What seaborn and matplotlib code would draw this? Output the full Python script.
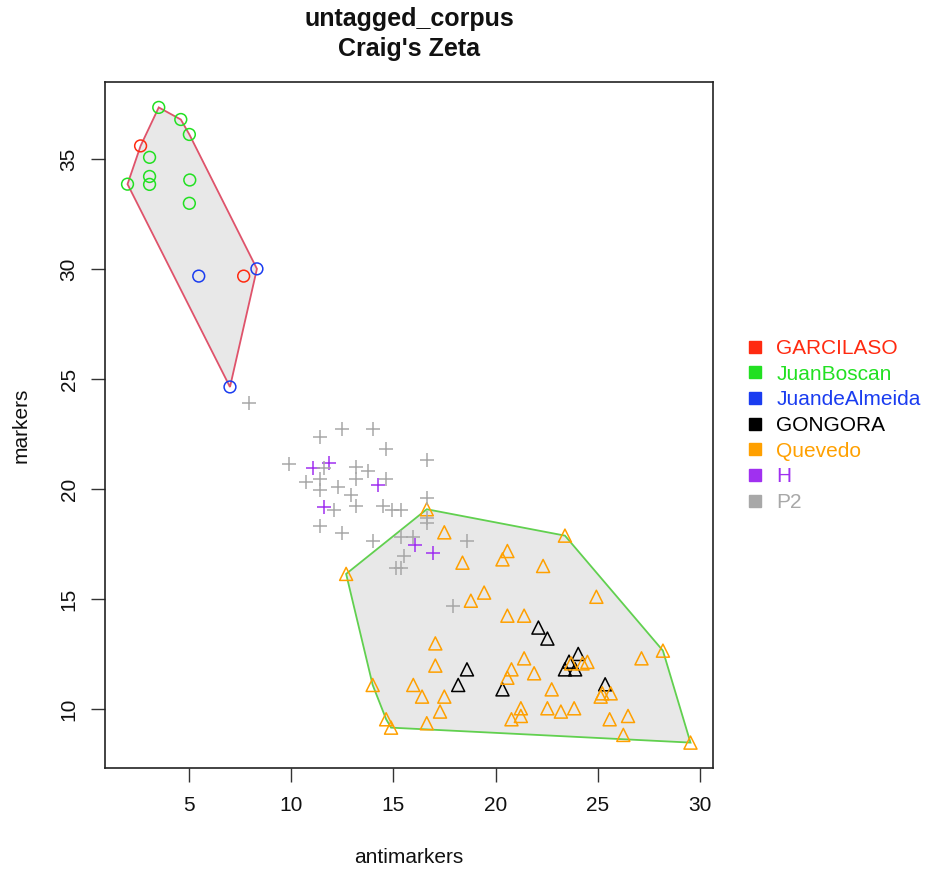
import numpy as np
import pandas as pd
import matplotlib
matplotlib.use("Agg")
import matplotlib.pyplot as plt
from matplotlib.lines import Line2D
import seaborn as sns

# ---------------- data ----------------
authors = ["GARCILASO", "JuanBoscan", "JuandeAlmeida", "GONGORA", "Quevedo", "H", "P2"]
author_colors = ["#FF2A10", "#22E022", "#1A3CF0", "#000000", "#FFA000", "#A030F0", "#A8A8A8"]

garcilaso_x = [2.61, 7.66]
garcilaso_y = [35.6, 29.68]

juanboscan_x = [3.5, 4.58, 5.0, 3.05, 3.05, 3.05, 1.97, 5.02, 5.0]
juanboscan_y = [37.35, 36.8, 36.12, 35.08, 34.21, 33.85, 33.86, 34.05, 32.99]

juandealmeida_x = [5.46, 8.31, 6.99]
juandealmeida_y = [29.68, 30.01, 24.64]

gongora_x = [18.6, 18.17, 20.34, 22.1, 22.54, 24.05, 23.6, 23.4, 23.9, 25.37]
gongora_y = [11.8, 11.09, 10.89, 13.7, 13.2, 12.5, 12.15, 11.8, 11.8, 11.12]

quevedo_x = [16.63, 17.49, 12.68, 18.38, 20.58, 20.34, 19.44, 18.79, 20.58, 21.4,
             17.05, 17.05, 13.98, 15.97, 16.4, 17.49, 17.28, 14.64, 14.88, 16.63,
             20.78, 20.58, 21.4, 21.24, 20.78, 21.24, 23.4, 22.33, 24.94, 28.2,
             27.15, 21.89, 22.75, 22.54, 23.2, 23.85, 25.59, 26.49, 26.26, 29.55,
             23.7, 24.26, 24.5, 25.15, 25.23, 25.64]
quevedo_y = [19.08, 18.03, 16.14, 16.65, 17.18, 16.8, 15.29, 14.92, 14.24, 14.24,
             12.98, 11.97, 11.09, 11.09, 10.56, 10.56, 9.88, 9.53, 9.15, 9.35,
             11.8, 11.42, 12.3, 10.03, 9.53, 9.68, 17.88, 16.5, 15.1, 12.65,
             12.3, 11.62, 10.89, 10.03, 9.88, 10.03, 9.53, 9.68, 8.82, 8.47,
             12.07, 12.07, 12.14, 10.56, 10.71, 10.71]

h_x = [11.08, 11.83, 14.23, 11.59, 16.06, 16.96]
h_y = [20.94, 21.17, 20.17, 19.2, 17.45, 17.1]

p2_x = [11.39, 12.47, 14.0, 14.64, 16.63, 9.86, 11.59, 13.14, 13.77, 13.14,
        14.64, 11.39, 10.73, 12.28, 11.39, 12.9, 16.63, 12.11, 13.14, 14.47,
        14.91, 15.37, 16.63, 16.63, 11.39, 12.47, 14.0, 15.37, 15.97, 18.6,
        15.53, 15.13, 15.37, 17.94, 7.9]
p2_y = [22.38, 22.71, 22.71, 21.82, 21.32, 21.14, 20.94, 20.99, 20.82, 20.45,
        20.45, 20.45, 20.3, 20.08, 19.95, 19.73, 19.58, 19.05, 19.23, 19.23,
        19.05, 19.05, 18.67, 18.47, 18.33, 17.99, 17.64, 17.83, 17.83, 17.64,
        16.97, 16.4, 16.4, 14.68, 23.9]

x_ticks = [5, 10, 15, 20, 25, 30]
y_ticks = [10, 15, 20, 25, 30, 35]

# ---------------- build table ----------------
xs = [garcilaso_x, juanboscan_x, juandealmeida_x, gongora_x, quevedo_x, h_x, p2_x]
ys = [garcilaso_y, juanboscan_y, juandealmeida_y, gongora_y, quevedo_y, h_y, p2_y]
frames = []
for a, x, y in zip(authors, xs, ys):
    frames.append(pd.DataFrame({"antimarkers": x, "markers": y, "author": a}))
df = pd.concat(frames, ignore_index=True)

marker_of = {"GARCILASO": "o", "JuanBoscan": "o", "JuandeAlmeida": "o",
             "GONGORA": "^", "Quevedo": "^", "H": "+", "P2": "+"}
size_of = {"o": 72, "^": 88, "+": 110}
color_of = dict(zip(authors, author_colors))

hull_groups = [(["GARCILASO", "JuanBoscan", "JuandeAlmeida"], "#DF536B"),
               (["GONGORA", "Quevedo"], "#61D04F")]


def convex_hull(points):
    pts = sorted(set(points))
    if len(pts) <= 2:
        return pts

    def cross(o, a, b):
        return (a[0] - o[0]) * (b[1] - o[1]) - (a[1] - o[1]) * (b[0] - o[0])

    lower = []
    for p in pts:
        while len(lower) >= 2 and cross(lower[-2], lower[-1], p) <= 0:
            lower.pop()
        lower.append(p)
    upper = []
    for p in reversed(pts):
        while len(upper) >= 2 and cross(upper[-2], upper[-1], p) <= 0:
            upper.pop()
        upper.append(p)
    return lower[:-1] + upper[:-1]


# ---------------- plot ----------------
sns.set_theme(style="white")
plt.rcParams["font.family"] = ["Liberation Sans", "DejaVu Sans"]

fig = plt.figure(figsize=(9.28, 8.73), dpi=100)
ax = fig.add_axes([105 / 928, 1 - 768 / 873, 608 / 928, 686 / 873])

for group, lc in hull_groups:
    sub = df[df["author"].isin(group)]
    hull = convex_hull(list(zip(sub["antimarkers"], sub["markers"])))
    hx = [p[0] for p in hull]
    hy = [p[1] for p in hull]
    ax.fill(hx, hy, facecolor="#E8E8E8", edgecolor=lc, linewidth=1.3, zorder=1)

for a in authors:
    sub = df[df["author"] == a]
    m = marker_of[a]
    c = color_of[a]
    if m == "+":
        sns.scatterplot(data=sub, x="antimarkers", y="markers", ax=ax, marker="+",
                        s=size_of[m], color=c, linewidth=1.1, zorder=3, legend=False)
    else:
        sns.scatterplot(data=sub, x="antimarkers", y="markers", ax=ax, marker=m,
                        s=size_of[m], color=c, facecolor="none", edgecolor=c,
                        linewidth=1.1, zorder=3, legend=False)

# R-style 4% expansion of the data range
xmin, xmax = df["antimarkers"].min(), df["antimarkers"].max()
ymin, ymax = df["markers"].min(), df["markers"].max()
xr, yr = xmax - xmin, ymax - ymin
ax.set_xlim(xmin - 0.04 * xr, xmax + 0.04 * xr)
ax.set_ylim(ymin - 0.04 * yr, ymax + 0.04 * yr)

ax.set_xticks(x_ticks)
ax.set_yticks(y_ticks)
ax.set_xticklabels([str(t) for t in x_ticks])
ax.set_yticklabels([str(t) for t in y_ticks], rotation=90, va="center")
ax.tick_params(axis="both", which="major", direction="out", length=10, width=1.0,
               color="#333333", labelsize=15, labelcolor="#111111",
               bottom=True, left=True)
ax.tick_params(axis="x", pad=10)
ax.tick_params(axis="y", pad=9)

for sp in ax.spines.values():
    sp.set_color("#222222")
    sp.set_linewidth(1.2)

ax.set_xlabel("antimarkers", fontsize=15, color="#111111", labelpad=24)
ax.set_ylabel("markers", fontsize=15, color="#111111", labelpad=21)

fig.text(409 / 928, 1 - 34 / 873, "untagged_corpus\nCraig's Zeta", ha="center",
         va="center", fontsize=18, fontweight="bold", linespacing=1.35, color="#111111")

handles = [Line2D([], [], marker="s", linestyle="", color=c, markersize=9)
           for c in author_colors]
ax.legend(handles, authors, loc="upper left", bbox_to_anchor=(745 / 928, 1 - 339 / 873),
          bbox_transform=fig.transFigure, frameon=False, fontsize=15,
          labelcolor=author_colors, handletextpad=0.5, labelspacing=0.32,
          handlelength=1.0, borderaxespad=0, borderpad=0)

fig.savefig("out.png", dpi=100)
